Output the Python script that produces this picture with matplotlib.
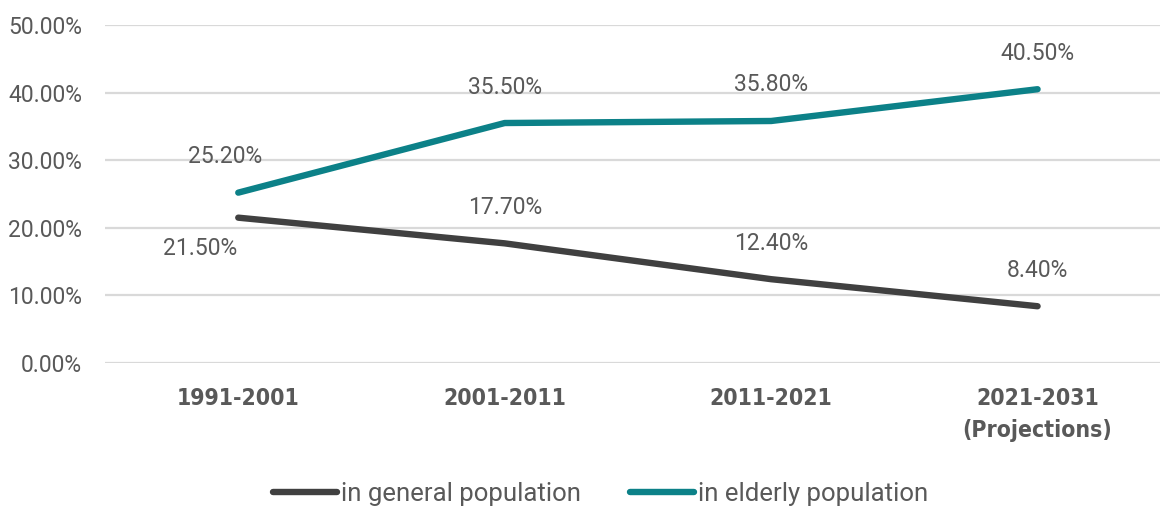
import matplotlib
matplotlib.use("Agg")
import matplotlib.pyplot as plt
from matplotlib.ticker import FuncFormatter

periods = ["1991-2001", "2001-2011", "2011-2021", "2021-2031\n(Projections)"]
general = [21.5, 17.7, 12.4, 8.4]
elderly = [25.2, 35.5, 35.8, 40.5]
yticks = [0, 10, 20, 30, 40, 50]

GREY = "#404040"
TEAL = "#0c8188"
TXT = "#595959"

fig = plt.figure(figsize=(11.62, 5.09), dpi=100)
ax = fig.add_axes([0.0904, 0.2868, 0.908, 0.6641])

x = list(range(len(periods)))
ax.plot(x, general, color=GREY, lw=4.6, solid_capstyle="round", label="in general population", zorder=3)
ax.plot(x, elderly, color=TEAL, lw=4.6, solid_capstyle="round", label="in elderly population", zorder=3)

ax.set_ylim(0, 50)
ax.set_xlim(-0.5, 3.46)
ax.set_yticks(yticks)
ax.yaxis.set_major_formatter(FuncFormatter(lambda v, _: f"{v:.2f}%"))
ax.grid(axis="y", color="#d9d9d9", lw=1.6)
ax.set_axisbelow(True)
for s in ax.spines.values():
    s.set_visible(False)
ax.tick_params(axis="both", length=0)
ax.tick_params(axis="y", pad=16.5, labelsize=16.5, labelcolor=TXT)
for lab in ax.get_yticklabels():
    lab.set_family(["Roboto", "DejaVu Sans"])

ax.set_xticks(x)
ax.set_xticklabels(periods, fontsize=16.5, fontweight="bold", color=TXT,
                   family=["DejaVu Sans"], fontstretch="condensed", linespacing=1.5)
ax.tick_params(axis="x", pad=17)

lab_kw = dict(fontsize=16.5, color=TXT, family=["Roboto", "DejaVu Sans"], ha="center", va="center")
for i, v in enumerate(elderly):
    dx = -13 if i == 0 else 0
    ax.annotate(f"{v:.2f}%", (i, v), xytext=(dx * 0.72, 36 * 0.72), textcoords="offset points", **lab_kw)
for i, v in enumerate(general):
    if i == 0:
        off = (-38 * 0.72, -31 * 0.72)
    else:
        off = (0, 36 * 0.72)
    ax.annotate(f"{v:.2f}%", (i, v), xytext=off, textcoords="offset points", **lab_kw)

leg = fig.legend(loc="center", bbox_to_anchor=(0.517, 0.03), ncol=2, frameon=False,
                 handlelength=2.5, handletextpad=0.15, columnspacing=1.9,
                 prop={"family": ["Roboto", "DejaVu Sans"], "size": 18.5})
for t in leg.get_texts():
    t.set_color(TXT)

fig.savefig("out.png", dpi=100)
